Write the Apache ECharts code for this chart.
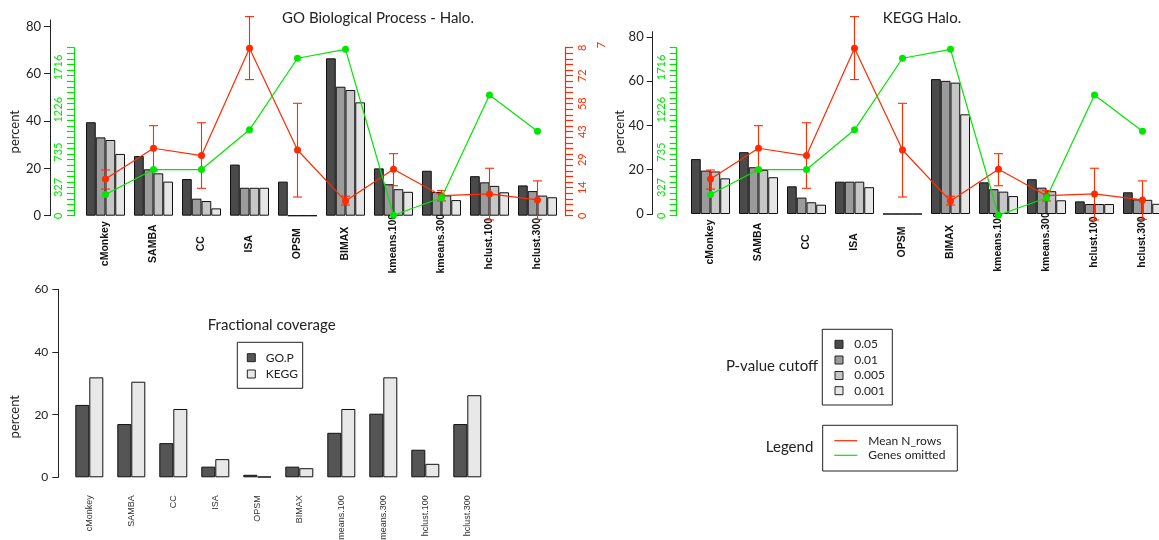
<!DOCTYPE html>
<html><head><meta charset="utf-8">
<script src="https://cdn.jsdelivr.net/npm/echarts@6/dist/echarts.min.js"></script>
<style>html,body{margin:0;padding:0;background:#fff}#c{width:1159px;height:540px}</style>
</head><body><div id="c"></div>
<script>
const categories = ['cMonkey','SAMBA','CC','ISA','OPSM','BIMAX','kmeans.100','kmeans.300','hclust.100','hclust.300'];
const cutoffs = ['0.05','0.01','0.005','0.001'];
// GO Biological Process: percent of clusters enriched, per p-value cutoff
const go005  = [39.5,25.2,15.5,21.6,14.4,66.5,20.0,19.0,16.7,12.8];
const go001  = [33.1,19.6, 7.2,11.8, 0,  54.5,13.3,10.0,14.1,10.4];
const go0005 = [32.0,17.9, 6.2,11.8, 0,  53.1,11.2, 8.6,12.6, 8.5];
const go0001 = [26.1,14.4, 3.1,11.8, 0,  47.9,10.1, 6.6, 9.9, 7.8];
// KEGG
const kegg005  = [24.8,27.9,12.5,14.6,0,60.9,14.3,15.7,5.7,9.8];
const kegg001  = [19.6,21.1, 7.4,14.6,0,60.1,11.2,11.9,4.5,6.6];
const kegg0005 = [19.2,19.9, 5.3,14.6,0,59.3,10.1,10.3,4.5,6.4];
const kegg0001 = [16.1,16.6, 4.2,12.1,0,45.0, 8.1, 6.2,4.5,4.6];
// Mean N_rows with error bars, genes omitted
const meanRows     = [18.9,34.7,30.9, 86.1,33.8, 7.5,23.9,10.3,11.2, 8.1];
const meanRowsLow  = [13.7,23.0,14.1, 70.0, 9.6, 5.5,15.4, 7.6,-2.2,-1.9];
const meanRowsHigh = [23.5,46.3,47.8,102.4,57.8,10.0,31.9,12.9,24.4,17.9];
const genesOmitted = [246,534,534,994,1822,1925,5,207,1396,978];
// Fractional coverage
const coverageGO   = [23.1,17.0,10.9,3.4,0.8,3.4,14.2,20.3,8.8,17.0];
const coverageKEGG = [31.9,30.5,21.8,5.8,0.2,2.9,21.8,31.9,4.3,26.2];
// tick labels
const percentTicks = [0,20,40,60,80];
const coverageTicks = [0,20,40,60];
const genesTicks = [0,327,735,1226,1716];
const rowsTicks = [0,14.4,28.8,43.2,57.6,72,86.4];

const GRAYS = ['#4a4a4a','#9b9b9b','#c6c6c6','#e6e6e6'];
const RED = '#ff2a00', GREEN = '#00e600';
const FONT = 'Lato, "Liberation Sans", sans-serif';
const genesMinor = []; for (let i=0;i<=30;i++) genesMinor.push(i*64.8);
const rowsMinor = []; for (let i=0;i<=30;i++) rowsMinor.push(+(i*2.88).toFixed(2));

function catAxis(grid, show, label){
  return {type:'category', gridIndex:grid, data:categories, show:show,
    axisLine:{show:false}, axisTick:{show:false}, axisLabel:label||{show:false}};
}
const topLabel = {rotate:90, align:'center', verticalAlign:'middle', margin:28, fontSize:10.5, fontWeight:'bold', color:'#111', fontFamily:'"Liberation Sans", Arial, sans-serif', interval:0};
const botLabel = {rotate:90, margin:18, fontSize:9, color:'#333', fontFamily:'"Liberation Sans", Arial, sans-serif', interval:0};

function pctAxis(grid, max, offset, ticks){
  return {type:'value', gridIndex:grid, min:0, max:max, position:'left', offset:offset,
    splitLine:{show:false},
    axisLine:{show:true, lineStyle:{color:'#222', width:1}},
    axisTick:{show:true, length:6, customValues:ticks, lineStyle:{color:'#222'}},
    axisLabel:{customValues:ticks, fontSize:13, color:'#222', margin:9, fontFamily:FONT}};
}
function genesAxis(grid, offset){
  return {type:'value', gridIndex:grid, min:0, max:1944, position:'left', offset:offset,
    splitLine:{show:false},
    axisLine:{show:true, lineStyle:{color:GREEN, width:1.2}},
    axisTick:{show:true, length:7, customValues:genesMinor, lineStyle:{color:GREEN, width:1.2}},
    axisLabel:{customValues:genesTicks, rotate:90, fontSize:11, color:GREEN, margin:10, fontFamily:FONT,
      formatter:v => String(Math.round(v))}};
}
function rowsAxis(grid, offset, show){
  return {type:'value', gridIndex:grid, min:0, max:86.4, position:'right', offset:offset, show:show,
    splitLine:{show:false},
    axisLine:{show:true, lineStyle:{color:RED, width:1.2}},
    axisTick:{show:true, length:8, customValues:rowsMinor, lineStyle:{color:RED, width:1.2}},
    axisLabel:{customValues:rowsTicks, rotate:90, fontSize:11, color:RED, margin:12, fontFamily:FONT,
      formatter:v => v > 80 ? '8' : String(Math.round(v))}};
}

function barSeries(xi, yi, arrs, names, colors, gap){
  return arrs.map((a,k)=>({type:'bar', name:names[k], xAxisIndex:xi, yAxisIndex:yi, data:a,
    barGap:'0%', barCategoryGap:gap, itemStyle:{color:colors[k], borderColor:'#111', borderWidth:1},
    emphasis:{disabled:true}}));
}
function errRender(params, api){
  const x = api.value(0), lo = api.value(1), hi = api.value(2);
  const a = api.coord([x, hi]), b = api.coord([x, lo]);
  const w = 4.5, st = {stroke:RED, lineWidth:1.1};
  return {type:'group', children:[
    {type:'line', shape:{x1:a[0],y1:a[1],x2:b[0],y2:b[1]}, style:st},
    {type:'line', shape:{x1:a[0]-w,y1:a[1],x2:a[0]+w,y2:a[1]}, style:st},
    {type:'line', shape:{x1:b[0]-w,y1:b[1],x2:b[0]+w,y2:b[1]}, style:st}
  ]};
}
const errData = categories.map((c,i)=>[i, meanRowsLow[i], meanRowsHigh[i]]);
function lineSeries(xi, yri, ygi){
  return [
    {type:'line', xAxisIndex:xi, yAxisIndex:yri, data:meanRows, symbol:'circle', symbolSize:7,
      lineStyle:{color:RED, width:1.2}, itemStyle:{color:RED}, emphasis:{disabled:true}, z:3},
    {type:'custom', xAxisIndex:xi, yAxisIndex:yri, data:errData, renderItem:errRender,
      encode:{x:0, y:[1,2]}, clip:false, z:3},
    {type:'line', xAxisIndex:xi, yAxisIndex:ygi, data:genesOmitted, symbol:'circle', symbolSize:7,
      lineStyle:{color:GREEN, width:1.2}, itemStyle:{color:GREEN}, emphasis:{disabled:true}, z:4}
  ];
}

function txt(x,y,t,opt){ return Object.assign({type:'text', x:x, y:y, style:Object.assign({text:t, fill:'#222', font:'15px '+FONT, textAlign:'center', textVerticalAlign:'middle'}, (opt&&opt.style)||{})}, opt&&opt.rotation!=null?{rotation:opt.rotation}:{}); }
function box(x,y,w,h){ return {type:'rect', shape:{x:x,y:y,width:w,height:h}, style:{fill:'#fff', stroke:'#222', lineWidth:1}}; }
function sq(x,y,c){ return {type:'rect', shape:{x:x,y:y-4,width:8,height:8}, style:{fill:c, stroke:'#222', lineWidth:1}}; }
function ln(x1,x2,y,c){ return {type:'line', shape:{x1:x1,y1:y,x2:x2,y2:y}, style:{stroke:c, lineWidth:1.2}}; }
const small = {style:{font:'12px '+FONT, textAlign:'left'}};

const graphics = [
  txt(378,18,'GO Biological Process - Halo.'),
  txt(922,18,'KEGG Halo.'),
  txt(15,131.7,'percent',{rotation:Math.PI/2, style:{font:'13px '+FONT}}),
  txt(620,131.7,'percent',{rotation:Math.PI/2, style:{font:'13px '+FONT}}),
  txt(15,416.7,'percent',{rotation:Math.PI/2, style:{font:'13px '+FONT}}),
  txt(601,45,'7',{rotation:Math.PI/2, style:{font:'11px '+FONT, fill:RED}}),
  txt(271.7,325,'Fractional coverage'),
  box(237.3,342.3,65.4,46),
  sq(247.3,357.7,'#555555'), sq(247.3,374,'#e8e8e8'),
  txt(265.7,357.7,'GO.P',small), txt(265.7,374,'KEGG',small),
  txt(818,366,'P-value cutoff',{style:{textAlign:'right'}}),
  box(822.3,329.3,70,75.7),
  sq(835,344.3,GRAYS[0]), sq(835,360,GRAYS[1]), sq(835,375.5,GRAYS[2]), sq(835,390.7,GRAYS[3]),
  txt(854.3,344.3,cutoffs[0],small), txt(854.3,360,cutoffs[1],small), txt(854.3,375.5,cutoffs[2],small), txt(854.3,390.7,cutoffs[3],small),
  txt(813.3,446.7,'Legend',{style:{textAlign:'right'}}),
  box(822.7,425.3,134.6,45.7),
  ln(834.3,857.3,440.7,RED), ln(834.3,857.3,455.3,GREEN),
  txt(868.3,440.7,'Mean N_rows',small), txt(868.3,455.3,'Genes omitted',small)
];

function grid(l,t,w,h){ return {left:l, top:t, width:w, height:h, outerBoundsMode:'none', containLabel:false}; }
const option = {
  animation:false,
  textStyle:{fontFamily:FONT},
  grid:[
    grid(81.5,20,480,195.7),
    grid(81.5,47.7,480,168),
    grid(686.5,31.7,480,182.3),
    grid(686.5,47.7,480,168),
    grid(68.3,289.3,420,188)
  ],
  xAxis:[
    catAxis(0,true,topLabel), catAxis(1,false), catAxis(2,true,topLabel), catAxis(3,false), catAxis(4,true,botLabel)
  ],
  yAxis:[
    pctAxis(0,82.7,31.5,percentTicks),
    genesAxis(1,7.5),
    rowsAxis(1,3.5,true),
    pctAxis(2,82.3,33.8,percentTicks),
    genesAxis(3,9.8),
    rowsAxis(3,3.5,false),
    Object.assign(pctAxis(4,60,10,coverageTicks),{axisLabel:{customValues:coverageTicks, fontSize:12, color:'#222', margin:10, fontFamily:FONT}})
  ],
  series:[].concat(
    barSeries(0,0,[go005,go001,go0005,go0001],cutoffs,GRAYS,'18.75%'),
    lineSeries(1,2,1),
    barSeries(2,3,[kegg005,kegg001,kegg0005,kegg0001],cutoffs,GRAYS,'18.75%'),
    lineSeries(3,5,4),
    barSeries(4,6,[coverageGO,coverageKEGG],['GO.P','KEGG'],['#555555','#e8e8e8'],'33.33%')
  ),
  graphic:graphics
};
const chart = echarts.init(document.getElementById('c'), null, {renderer:'canvas'});
chart.setOption(option);
</script></body></html>
